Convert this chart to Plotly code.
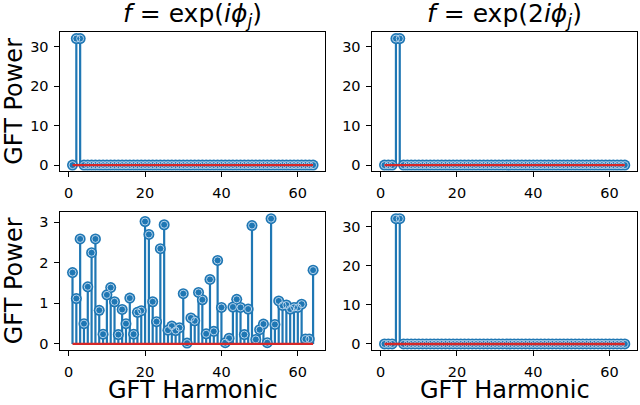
import plotly.graph_objects as go

harmonics = list(range(1, 65))

power_exp1 = [0, 32, 32] + [0] * 61
power_exp2 = [0, 0, 0, 32, 32] + [0] * 59
power_exp2b = [0, 0, 0, 32, 32] + [0] * 59
power_random = [
    1.76, 1.12, 2.59, 0.50, 1.41, 2.25, 2.59, 0.83, 0.24, 1.21,
    1.39, 1.04, 0.23, 0.85, 0.50, 1.13, 0.24, 0.78, 0.82, 3.02,
    2.70, 1.04, 0.55, 2.35, 2.94, 0.34, 0.44, 0.33, 0.40, 1.24,
    0.02, 0.64, 0.57, 1.27, 1.09, 0.25, 1.59, 0.31, 2.06, 0.90,
    0.03, 0.14, 0.91, 1.10, 0.90, 0.23, 0.86, 2.92, 0.11, 0.35,
    0.49, 0.03, 3.09, 0.48, 1.06, 0.95, 0.96, 0.86, 0.90, 0.90,
    0.98, 0.12, 0.12, 1.82,
]

titles = ["<i>f</i> = exp(<i>iϕ</i><sub><i>j</i></sub>)",
          "<i>f</i> = exp(2<i>iϕ</i><sub><i>j</i></sub>)"]
ylabel = "GFT Power"
xlabel = "GFT Harmonic"

BLUE = "#1f77b4"
RED = "#d62728"
FONT = "DejaVu Sans"

panels = [
    (power_exp1, "x", "y"),
    (power_exp2, "x2", "y2"),
    (power_random, "x3", "y3"),
    (power_exp2b, "x4", "y4"),
]

fig = go.Figure()
for vals, xa, ya in panels:
    sx, sy = [], []
    for h, v in zip(harmonics, vals):
        sx += [h, h, None]
        sy += [0, v, None]
    fig.add_trace(go.Scatter(x=sx, y=sy, mode="lines", xaxis=xa, yaxis=ya,
                             line=dict(color=BLUE, width=2.2), hoverinfo="skip"))
    fig.add_trace(go.Scatter(x=harmonics, y=vals, mode="markers", xaxis=xa, yaxis=ya,
                             marker=dict(symbol="circle", size=11, color=BLUE,
                                         line=dict(width=0))))
    fig.add_trace(go.Scatter(x=harmonics, y=vals, mode="markers", xaxis=xa, yaxis=ya,
                             marker=dict(symbol="circle-open", size=7,
                                         color="#b5d3ec", line=dict(width=1, color="#b5d3ec"))))
    fig.add_trace(go.Scatter(x=[harmonics[0], harmonics[-1]], y=[0, 0], mode="lines",
                             xaxis=xa, yaxis=ya, line=dict(color=RED, width=2.4)))

xdoms = [[0.0945, 0.508], [0.582, 0.995]]
ydoms_top = [0.5746, 0.920]
ydoms_bot = [0.131, 0.473]

axcommon = dict(showline=True, linecolor="black", linewidth=1, mirror=True,
                ticks="outside", ticklen=5, tickcolor="black", showgrid=False,
                ticklabelstandoff=3,
                zeroline=False, tickfont=dict(family=FONT, size=14.5, color="black"))

def xr():
    return [1 - 0.05 * 63, 64 + 0.05 * 63]

layout = dict(
    width=640, height=405, margin=dict(l=0, r=0, t=0, b=0),
    paper_bgcolor="white", plot_bgcolor="white", showlegend=False,
    xaxis=dict(domain=xdoms[0], anchor="y", range=xr(), tickvals=[0, 20, 40, 60], **axcommon),
    yaxis=dict(domain=ydoms_top, anchor="x", range=[-1.6, 33.6], tickvals=[0, 10, 20, 30], **axcommon),
    xaxis2=dict(domain=xdoms[1], anchor="y2", range=xr(), tickvals=[0, 20, 40, 60], **axcommon),
    yaxis2=dict(domain=ydoms_top, anchor="x2", range=[-1.6, 33.6], tickvals=[0, 10, 20, 30], **axcommon),
    xaxis3=dict(domain=xdoms[0], anchor="y3", range=xr(), tickvals=[0, 20, 40, 60], **axcommon),
    yaxis3=dict(domain=ydoms_bot, anchor="x3", range=[-0.155, 3.245], tickvals=[0, 1, 2, 3], **axcommon),
    xaxis4=dict(domain=xdoms[1], anchor="y4", range=xr(), tickvals=[0, 20, 40, 60], **axcommon),
    yaxis4=dict(domain=ydoms_bot, anchor="x4", range=[-1.6, 33.6], tickvals=[0, 10, 20, 30], **axcommon),
)
fig.update_layout(**layout)

ann = []
for i, t in enumerate(titles):
    ann.append(dict(text=t, x=sum(xdoms[i]) / 2, y=1 - 15 / 405, xref="paper", yref="paper",
                    showarrow=False, font=dict(family=FONT, size=25, color="black"),
                    xanchor="center", yanchor="middle"))
for yd in [ydoms_top, ydoms_bot]:
    ann.append(dict(text=ylabel, x=14 / 640, y=sum(yd) / 2, xref="paper", yref="paper",
                    showarrow=False, textangle=-90, font=dict(family=FONT, size=24, color="black"),
                    xanchor="center", yanchor="middle"))
for xd in xdoms:
    ann.append(dict(text=xlabel, x=sum(xd) / 2, y=1 - 392 / 405, xref="paper", yref="paper",
                    showarrow=False, font=dict(family=FONT, size=24, color="black"),
                    xanchor="center", yanchor="middle"))
fig.update_layout(annotations=ann)

fig.write_html("out.html")
